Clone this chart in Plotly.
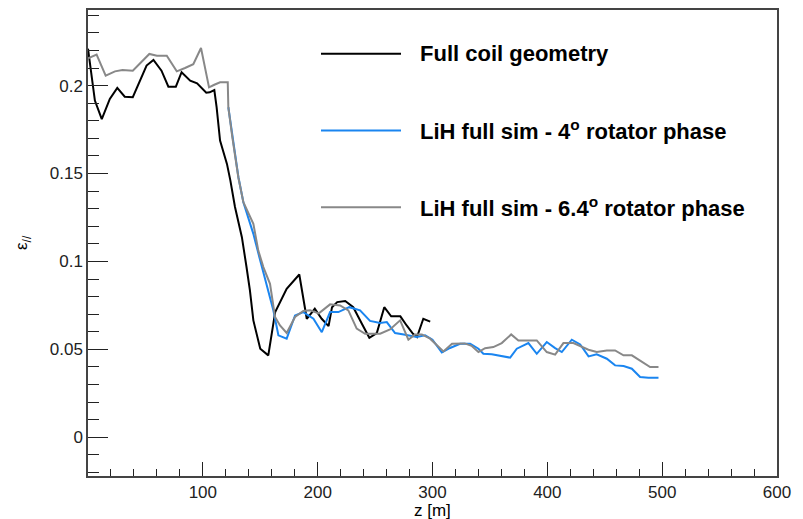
import plotly.graph_objects as go

# ---- data ----
z_coil = [0, 6, 12, 19, 25.5, 32, 39, 51, 57, 64, 70, 76.5, 81.5, 89, 95, 103, 106, 110,
          112, 115, 121, 124, 128, 134, 138, 141, 144, 150, 157, 163, 173, 184, 190.5,
          197.5, 203.5, 209.5, 212.5, 217, 224, 231, 238.5, 245, 251.5, 258, 264, 272,
          277.5, 283, 286.5, 292, 298]
eps_coil = [0.221, 0.1915, 0.181, 0.1924, 0.1987, 0.1937, 0.1934, 0.2114, 0.2146, 0.2085,
            0.1994, 0.1994, 0.2076, 0.2028, 0.2013, 0.196, 0.1962, 0.1975,
            0.1877, 0.1688, 0.1555, 0.146, 0.131, 0.1138, 0.097, 0.0835, 0.0665, 0.0504,
            0.0466, 0.0712, 0.0845, 0.0926, 0.0674, 0.0731, 0.0674, 0.0632, 0.074, 0.0769,
            0.0775, 0.074, 0.0646, 0.0566, 0.0593, 0.074, 0.0688, 0.0688, 0.0636, 0.0589,
            0.057, 0.0674, 0.0658]

z_lih4 = [122.2, 126.6, 131, 135.3, 140, 144, 149, 154.2, 161.4, 165.8, 173, 180.3, 187.5,
          196.3, 203.6, 210.8, 218, 227.5, 236.9, 245.6, 254.4, 260.2, 267.4, 275, 286.3,
          293.6, 300, 308.1, 315.3, 324, 332.8, 340, 344.3, 351.6, 360.3, 367.6, 373.4,
          383.5, 390.8, 399.5, 406.8, 412.6, 421.3, 428.6, 435.9, 443, 451.8, 459, 466.4,
          473.6, 480.8, 488, 496.8]
eps_lih4 = [0.1877, 0.1688, 0.1479, 0.1337, 0.124, 0.1157, 0.103, 0.0906, 0.0722, 0.058,
            0.0561, 0.0693, 0.0712, 0.0674, 0.0598, 0.0712, 0.0712, 0.074, 0.0722, 0.0662,
            0.065, 0.0655, 0.0593, 0.0585, 0.057, 0.058, 0.0555, 0.0482, 0.0508, 0.0532,
            0.0532, 0.0504, 0.0475, 0.0472, 0.046, 0.0453, 0.0504, 0.0536, 0.0475, 0.0542,
            0.0507, 0.0485, 0.0555, 0.0528, 0.046, 0.0472, 0.0447, 0.0409, 0.0405, 0.039,
            0.0343, 0.0339, 0.0339]

z_lih64 = [0, 7.5, 15.4, 23.5, 30, 39, 53.4, 60, 68.6, 77.3, 84.5, 91.7, 98.4, 105.4, 110,
           115, 121.7, 122.2, 125.7, 130.9, 135.3, 139.6, 144, 148.3, 152.7, 158.5, 162.9,
           167.2, 173, 180.3, 187.5, 193.4, 201, 210.8, 219.5, 226.7, 234, 241.3, 254.4,
           263, 271.8, 279, 284.8, 290.7, 297.9, 309.5, 317, 328, 334, 340, 345.8, 353,
           360.3, 368.5, 374.8, 390.8, 399.5, 406.8, 414, 422.7, 430, 435.8, 443, 451.8,
           459, 466.3, 473.6, 480.8, 489.5, 496.8]
eps_lih64 = [0.2155, 0.2176, 0.2057, 0.2081, 0.2089, 0.2085, 0.218, 0.217, 0.217, 0.2081,
             0.21, 0.2122, 0.2214, 0.199, 0.2005, 0.2019, 0.2019, 0.1877, 0.1706, 0.1479,
             0.1337, 0.1271, 0.1214, 0.1062, 0.0968, 0.0873, 0.0684, 0.0636, 0.0593, 0.0684,
             0.0718, 0.0722, 0.0705, 0.0756, 0.075, 0.0722, 0.0618, 0.0589, 0.0589, 0.0613,
             0.0665, 0.0555, 0.0585, 0.0585, 0.0561, 0.0488, 0.0532, 0.0534, 0.052, 0.0485,
             0.0507, 0.0513, 0.0536, 0.0585, 0.0551, 0.0551, 0.0485, 0.047, 0.0536, 0.0536,
             0.0513, 0.0498, 0.0485, 0.0494, 0.0494, 0.0466, 0.0466, 0.0438, 0.04, 0.04]

series_names = ["Full coil geometry",
                "LiH full sim - 4<sup>o</sup> rotator phase",
                "LiH full sim - 6.4<sup>o</sup> rotator phase"]
series_colors = ["#000000", "#1a85f0", "#888888"]

x_range = [0, 600]
y_range = [-0.022, 0.243]
x_tickvals = [100, 200, 300, 400, 500, 600]
y_tickvals = [0, 0.05, 0.1, 0.15, 0.2]
y_ticktext = ["0", "0.05", "0.1", "0.15", "0.2"]

W, H = 803, 519
ML, MR, MT, MB = 88, 26, 8, 43
PW, PH = W - ML - MR, H - MT - MB

fig = go.Figure()
for zx, ey, name, col in [(z_coil, eps_coil, series_names[0], series_colors[0]),
                          (z_lih4, eps_lih4, series_names[1], series_colors[1]),
                          (z_lih64, eps_lih64, series_names[2], series_colors[2])]:
    fig.add_trace(go.Scatter(x=zx, y=ey, mode="lines", name=name,
                             line=dict(color=col, width=2), showlegend=False))

# manual legend (ROOT-like)
def px2paper(px, py):
    return (px - ML) / PW, (H - MB - py) / PH

legend_rows = [52, 129, 206]
for name, col, py in zip(series_names, series_colors, legend_rows):
    x0, y0 = px2paper(321, py)
    x1, _ = px2paper(401, py)
    fig.add_shape(type="line", xref="paper", yref="paper", x0=x0, x1=x1, y0=y0, y1=y0,
                  line=dict(color=col, width=2))
    tx, _ = px2paper(418, py)
    fig.add_annotation(xref="paper", yref="paper", x=tx, y=y0, text="<b>" + name + "</b>",
                       showarrow=False, xanchor="left", yanchor="middle",
                       font=dict(family="Liberation Sans, Arial", size=22, color="#000"))

# axis titles
tx, ty = px2paper(23, 242)
fig.add_annotation(xref="paper", yref="paper", x=tx, y=ty, text="ε<sub>//</sub>",
                   textangle=-90, showarrow=False, xanchor="center", yanchor="middle",
                   font=dict(family="Liberation Sans, Arial", size=17, color="#000"))
tx, ty = px2paper(432, 511)
fig.add_annotation(xref="paper", yref="paper", x=tx, y=ty, text="z [m]",
                   showarrow=False, xanchor="center", yanchor="middle",
                   font=dict(family="Liberation Sans, Arial", size=17, color="#000"))

axis_common = dict(showgrid=False, zeroline=False, showline=True, linecolor="#444",
                   linewidth=1.5, mirror=True, ticks="inside", tickcolor="#222",
                   tickwidth=1, tickfont=dict(family="Liberation Sans, Arial", size=17,
                                              color="#222"))
fig.update_xaxes(range=x_range, tickvals=x_tickvals, ticklen=14,
                 minor=dict(ticks="inside", ticklen=7, dtick=20, tickcolor="#222",
                            showgrid=False),
                 **axis_common)
fig.update_yaxes(range=y_range, tickvals=y_tickvals, ticktext=y_ticktext, ticklen=20,
                 minor=dict(ticks="inside", ticklen=11, dtick=0.01, tick0=0,
                            tickcolor="#222", showgrid=False),
                 **axis_common)

fig.update_layout(width=W, height=H, margin=dict(l=ML, r=MR, t=MT, b=MB),
                  paper_bgcolor="white", plot_bgcolor="white", showlegend=False)

fig.write_html("out.html", config={"displayModeBar": False},
               post_script="document.body.style.margin='0';document.body.style.overflow='hidden';")
